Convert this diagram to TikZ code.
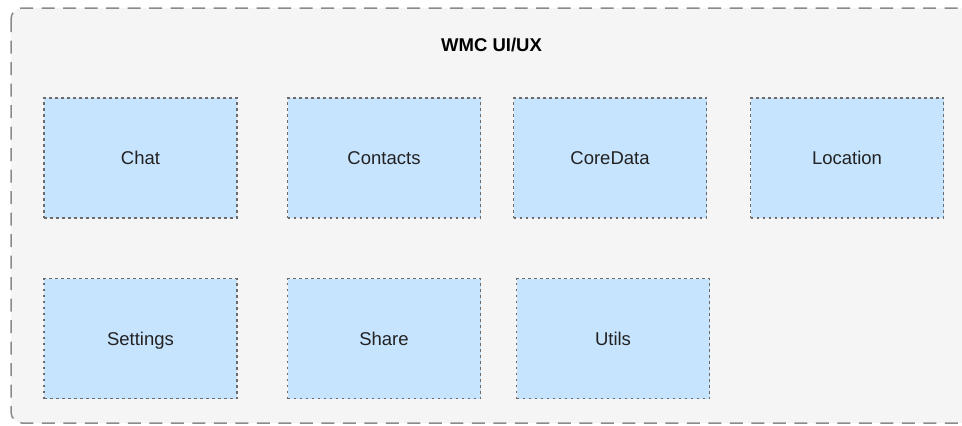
\documentclass[tikz,border=0pt]{standalone}
\usepackage{fontspec}
\setmainfont{Liberation Sans}
\definecolor{groupfill}{HTML}{F5F5F5}
\definecolor{groupline}{HTML}{8A8A8A}
\definecolor{modfill}{HTML}{C7E4FF}
\definecolor{modline}{HTML}{6B6B6B}
\definecolor{labeltext}{HTML}{222222}
\tikzset{
  group/.style={draw=groupline, fill=groupfill, line width=1.5pt,
    dash pattern=on 13pt off 8.5pt, rounded corners=11pt},
  module/.style={draw=modline, fill=modfill, line width=1.4pt,
    dash pattern=on 2.6pt off 3.4pt, minimum width=193pt, minimum height=120pt,
    inner sep=0pt, text height=13.3pt, text depth=0pt,
    font=\fontsize{18.5}{22}\selectfont, text=labeltext},
  grouptitle/.style={font=\bfseries\fontsize{18.5}{22}\selectfont, text=black,
    text height=13.3pt, text depth=0pt, inner sep=0pt}
}
\begin{document}
\begin{tikzpicture}[x=1pt, y=-1pt]
  \useasboundingbox (0,0) rectangle (962,426);
  \clip (0,0) rectangle (962,426);
  % surrounding group
  \draw[group] (11,8) rectangle (985,423);
  \node[grouptitle] (title) at (491.5,45) {WMC UI/UX};
  % first row
  \node[module] (chat)     at (140.5,158) {Chat};
  \node[module] (contacts) at (384,158)   {Contacts};
  \node[module] (coredata) at (610,158)   {CoreData};
  \node[module] (location) at (847,158)   {Location};
  % second row
  \node[module] (settings) at (140.5,338.5) {Settings};
  \node[module] (share)    at (384,338.5)   {Share};
  \node[module] (utils)    at (613,338.5)   {Utils};
\end{tikzpicture}
\end{document}
